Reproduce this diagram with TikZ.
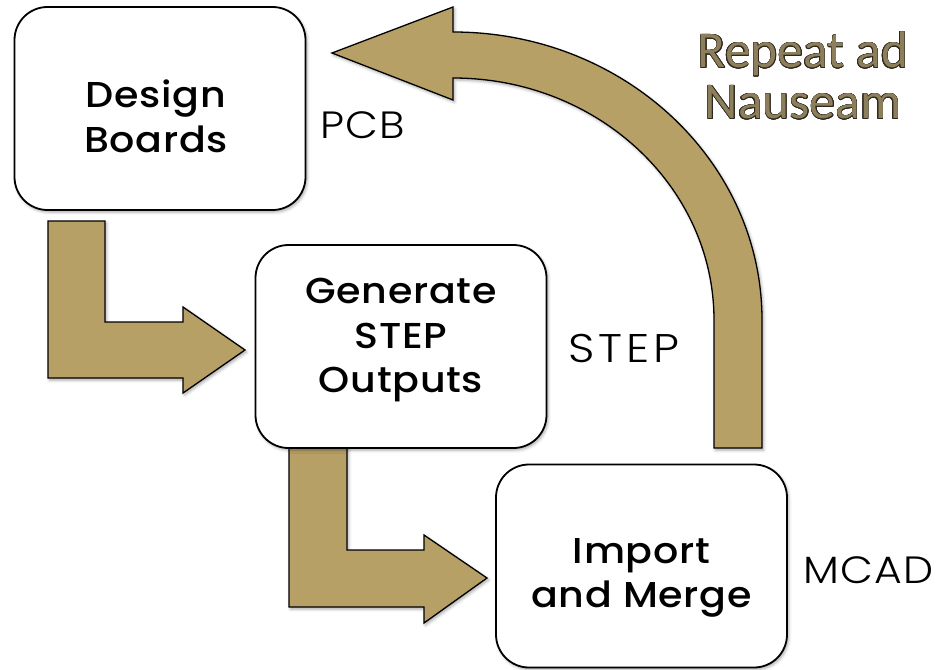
\documentclass[tikz,border=0pt]{standalone}
\usepackage{fontspec}
\setmainfont{Poppins}
\newfontfamily\boxfont[FakeStretch=1.1, LetterSpace=2]{Poppins Medium}
\newfontfamily\tagfont[FakeStretch=1.12, LetterSpace=3]{Poppins Light}
\newfontfamily\steptagfont[FakeStretch=1.15, LetterSpace=10]{Poppins Light}
\newfontfamily\repfont{Carlito}
\usepackage{contour}
\contourlength{0.45pt}
\usetikzlibrary{shadows.blur}
\definecolor{gold}{RGB}{183,160,102}
\definecolor{repfill}{RGB}{142,127,92}
\definecolor{repline}{RGB}{45,40,30}
\begin{document}
\begin{tikzpicture}[x=1pt,y=-1pt,
  softshadow/.style={blur shadow={shadow xshift=1.5pt, shadow yshift=-2pt, shadow blur radius=3pt, shadow opacity=35}},
  box/.style={draw=black, line width=1.8pt, fill=white, rounded corners=33pt, inner sep=0pt, minimum width=291pt, minimum height=203pt, softshadow},
  boxtext/.style={font=\boxfont\fontsize{36}{44.5}\selectfont, align=center, inner sep=0pt},
  tag/.style={font=\tagfont\fontsize{38}{44}\selectfont, anchor=base west, inner sep=0pt},
  blockarrow/.style={fill=gold, draw=black, line width=1.3pt, line join=miter, softshadow},
  reptext/.style={font=\repfont\fontsize{51.5}{51}\selectfont, align=center, text=repfill, inner sep=0pt}]
\useasboundingbox (0,0) rectangle (939,669);

% block arrows (behind the boxes)
\draw[blockarrow] (48,221) -- (105,221) -- (105,322) -- (183,322) -- (183,307) -- (245,350)
  -- (183,393) -- (183,378) -- (48,378) -- cycle;
\draw[blockarrow] (289,440) -- (347,440) -- (347,550) -- (424,550) -- (424,535) -- (487,578)
  -- (424,623) -- (424,607) -- (289,607) -- cycle;
\draw[blockarrow] (762,448) -- (762,320) arc[start angle=0, end angle=-90, x radius=309, y radius=288]
  -- (453,7) -- (332,53) -- (453,100) -- (453,78)
  arc[start angle=-90, end angle=0, x radius=261, y radius=242] -- (714,448) -- cycle;

% boxes
\node[box] (design) at (160,108.5) {};
\node[box] (gen) at (401,346.5) {};
\node[box] (merge) at (641.5,566) {};

\node[boxtext] (designtxt) at (156,116.5) {Design\\Boards};
\node[boxtext] (gentxt) at (401,340.5) {Generate\\STEP\\Outputs};
\node[boxtext] (mergetxt) at (641.5,578) {Import\\and Merge};

% labels
\node[tag] (pcb) at (320,138) {PCB};
\node[tag, font=\steptagfont\fontsize{40}{44}\selectfont] (step) at (568,362) {STEP};
\node[tag] (mcad) at (803,583) {MCAD};

\node[reptext] (repeat) at (803,76) {\contour{repline}{Repeat ad}\\\contour{repline}{Nauseam}};
\end{tikzpicture}
\end{document}
